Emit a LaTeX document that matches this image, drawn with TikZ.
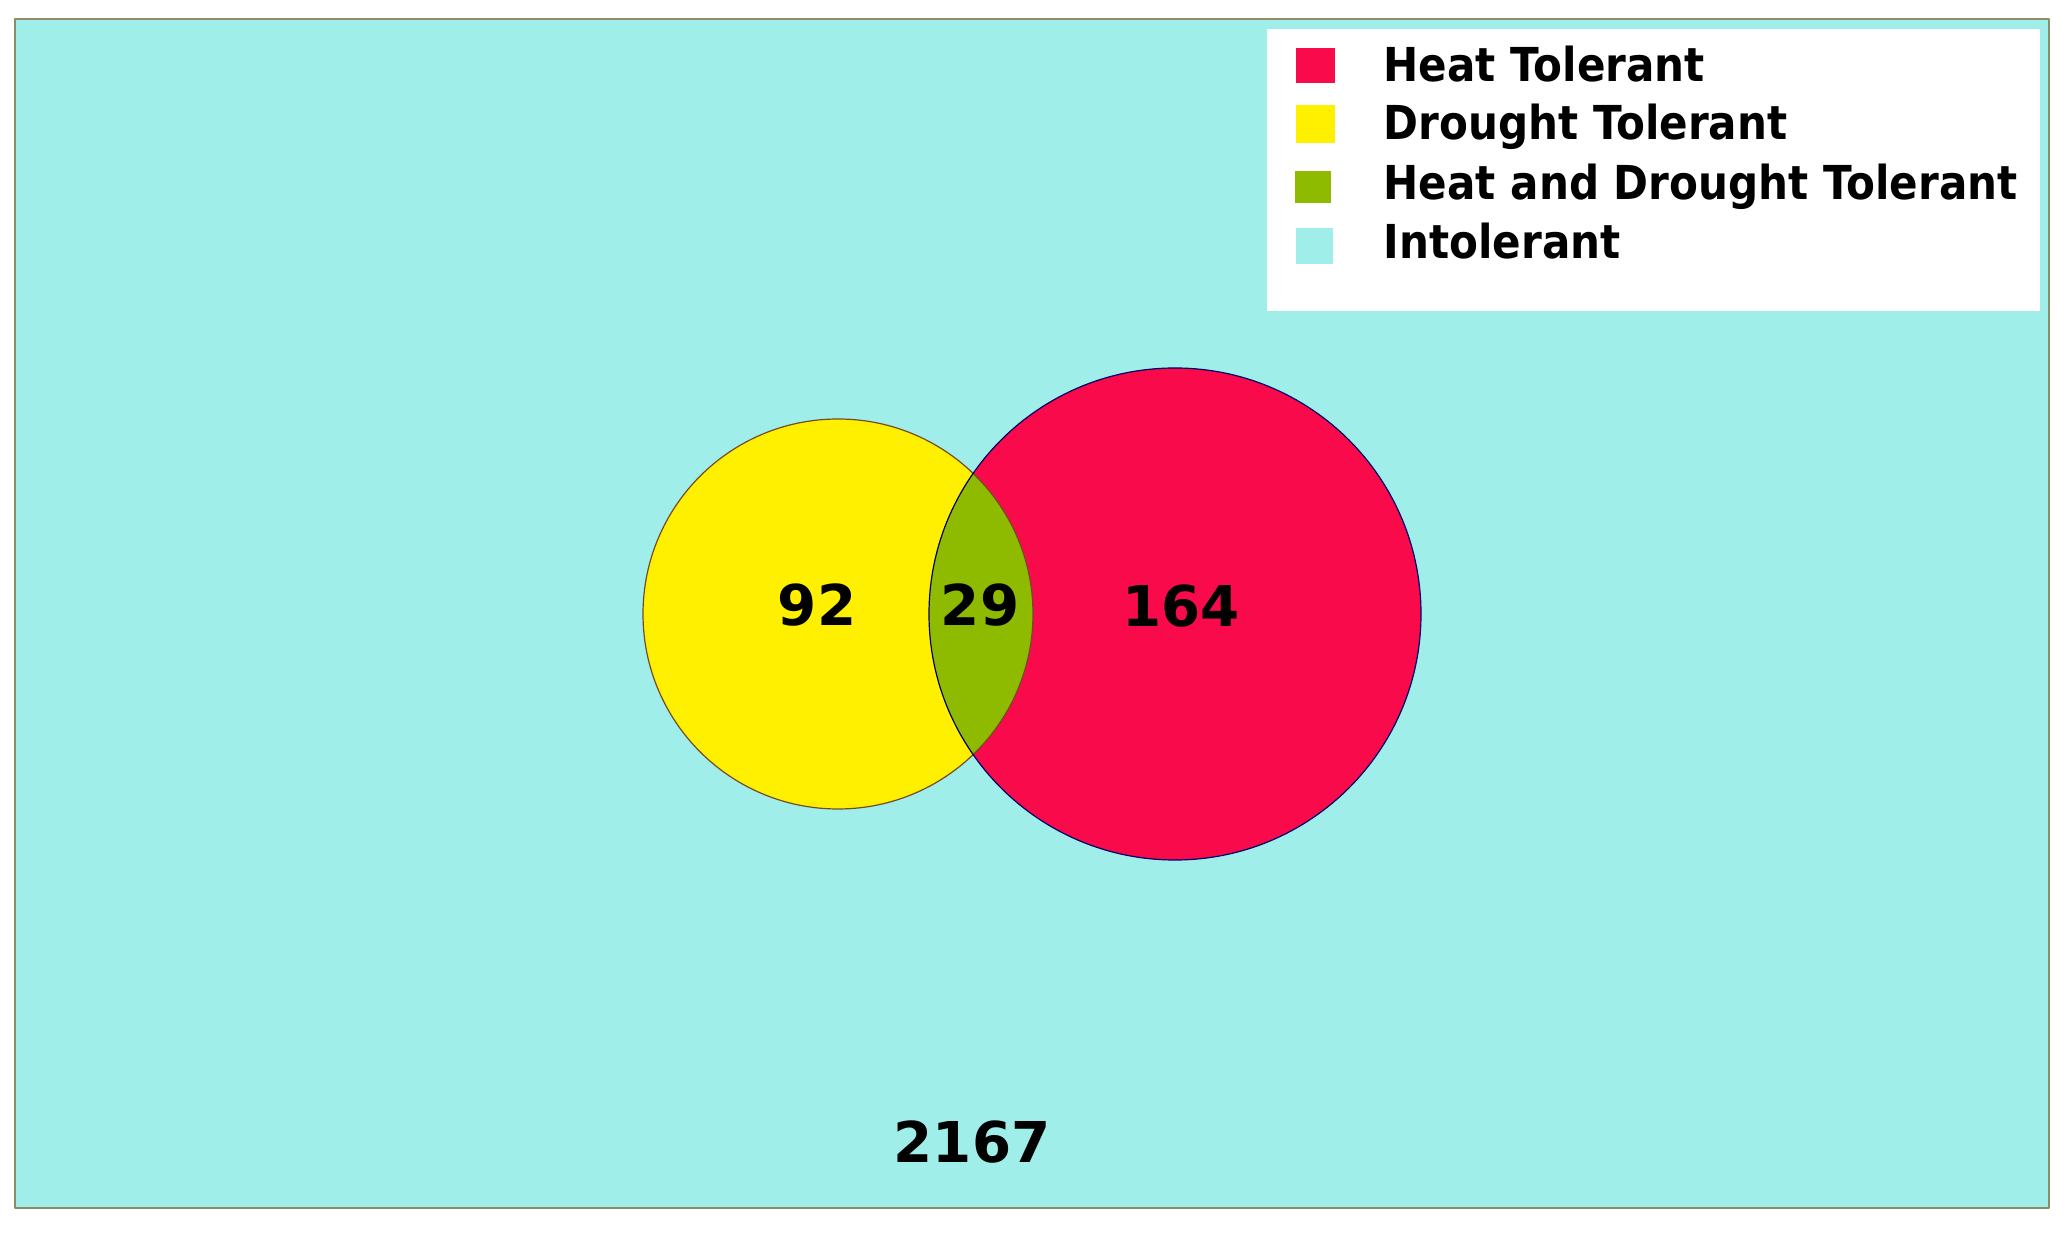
\documentclass[tikz,border=0pt]{standalone}
\usepackage{fontspec}
\setmainfont{DejaVu Sans}
\definecolor{heatred}{RGB}{249,10,75}
\definecolor{drouyel}{RGB}{255,240,0}
\definecolor{bothgrn}{RGB}{142,186,0}
\definecolor{intcyan}{RGB}{159,238,233}
\definecolor{framecol}{RGB}{140,140,105}
\newcommand{\legtext}[1]{\scalebox{0.9}[1]{#1}}

\begin{document}
\begin{tikzpicture}[x=0.01cm, y=-0.01cm, line join=round, line cap=round,
	num/.style={inner sep=0pt, font=\fontsize{16}{16}\selectfont\bfseries},
	lab/.style={anchor=base west, inner sep=0pt, font=\fontsize{13.3}{14}\selectfont\bfseries},
	rim/.style={line width=0.012cm}]
		\useasboundingbox (0,0) rectangle (2066,1237);
		\fill[intcyan] (15,19) rectangle (2049,1208);
		\fill[white] (1267,29) rectangle (2040,311);
		% the two sets
		\fill[drouyel] (838,614) circle (195);
		\fill[heatred] (1175,614) circle (246);
		\begin{scope}
			\clip (838,614) circle (195);
			\fill[bothgrn] (1175,614) circle (246);
		\end{scope}
		\draw[rim, draw=brown!60!black] (838,614) circle (195);
		\draw[rim, draw=blue!40!black] (1175,614) circle (246);
		\draw[line width=0.025cm, draw=framecol] (15,19) rectangle (2049,1208);
		% counts
		\node[num] (dro) at (817,605) {92};
		\node[num] (both) at (980,605) {29};
		\node[num] (heat) at (1181,606) {164};
		\node[num] (intol) at (972,1142) {2167};
		% legend
		\fill[heatred] (1296,48) rectangle (1335,83);
		\fill[drouyel] (1296,105) rectangle (1335,143);
		\fill[bothgrn] (1295,171) rectangle (1331,203);
		\fill[intcyan] (1296,228) rectangle (1333,264);
		\node[lab] (lheat) at (1383,82) {\legtext{Heat Tolerant}};
		\node[lab] (ldro) at (1383,140) {\legtext{Drought Tolerant}};
		\node[lab] (lboth) at (1383,200) {\legtext{Heat and Drought Tolerant}};
		\node[lab] (lint) at (1383,259) {\legtext{Intolerant}};
\end{tikzpicture}
\end{document}
